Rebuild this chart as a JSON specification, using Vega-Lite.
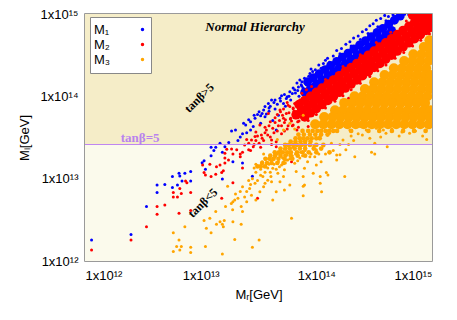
{
"$schema": "https://vega.github.io/schema/vega-lite/v6.json",
"width": 347, "height": 247,
"autosize": {"type": "none"},
"padding": {"left": 85, "top": 14, "right": 25, "bottom": 59},
"background": "white",
"config": {
  "view": {"stroke": "#7a7a7a", "strokeWidth": 1.5},
  "font": "Liberation Sans",
  "axis": {"labelFont": "Liberation Sans", "labelFontSize": 13, "labelColor": "black", "titleFont": "Liberation Sans", "titleFontSize": 13, "titleFontWeight": "normal", "titleColor": "black", "grid": false, "ticks": false, "domain": false}
},
"datasets": {
"bs": [
{"x":1.14e12,"y":1.8e12},{"x":2.5e12,"y":2.1e12},{"x":3.4e12,"y":4.6e12},{"x":4.2e12,"y":6.8e12},{"x":4.2e12,"y":8.4e12},{"x":4.9e12,"y":8.5e12},{"x":5.7e12,"y":7.8e12},{"x":5.7e12,"y":1.06e13},{"x":6.3e12,"y":8.4e12},{"x":6.5e12,"y":1.16e13},{"x":6.6e12,"y":1.08e13},{"x":7.3e12,"y":1.16e13},{"x":6.9e12,"y":9.4e12},{"x":8.2e12,"y":1.22e13},{"x":8.2e12,"y":9.4e12},{"x":1.03e13,"y":1.56e13},{"x":1.07e13,"y":1.65e13},{"x":1.1e13,"y":1.3e13},{"x":1.23e13,"y":1.9e13},{"x":1.23e13,"y":2.4e13},{"x":1.35e13,"y":2.4e13},{"x":1.47e13,"y":2.7e13},{"x":1.54e13,"y":2.1e13},{"x":1.62e13,"y":2.45e13},{"x":1.54e13,"y":9.9e12},{"x":1.3e13,"y":2.2e13},{"x":1.85e13,"y":3.8e13},{"x":2.0e13,"y":3.9e13},{"x":2.2e13,"y":3.2e13},{"x":2.35e13,"y":4.7e13},{"x":2.7e13,"y":4.9e13},{"x":2.7e13,"y":3.9e13},{"x":2.85e13,"y":4.3e13},{"x":2.5e13,"y":3.6e13},{"x":2.95e13,"y":5.4e13},{"x":3.3e13,"y":4.7e13},{"x":3.4e13,"y":6.2e13},{"x":3.6e13,"y":5.65e13},{"x":3.6e13,"y":7.5e13},{"x":3.85e13,"y":8.2e13},{"x":4.1e13,"y":9.0e13},{"x":4.5e13,"y":3.9e13},{"x":4.85e13,"y":9.5e13},{"x":5.2e13,"y":8.2e13},{"x":5.6e13,"y":9.9e13},{"x":5.9e13,"y":1.14e14},{"x":6.3e13,"y":1.26e14},{"x":6.8e13,"y":1.45e14},{"x":7.2e13,"y":1.58e14},{"x":7.9e13,"y":1.66e14},{"x":8.8e13,"y":1.9e14},{"x":9.8e13,"y":2.1e14},{"x":8.2e13,"y":1.38e14},{"x":7.9e13,"y":6.2e13},{"x":4.7e13,"y":5.9e13},{"x":2.1e13,"y":2.9e13},{"x":1.75e13,"y":2.75e13},{"x":3.1e13,"y":6.0e13},{"x":4.4e13,"y":7.0e13},{"x":5.0e13,"y":1.02e14},{"x":5.4e13,"y":7.6e13},{"x":6.0e13,"y":9.0e13},{"x":6.6e13,"y":1.1e14},{"x":3.9e13,"y":6.6e13},{"x":4.2e13,"y":5.1e13},{"x":2.3e13,"y":3.5e13},{"x":2.8e13,"y":1.07e13},{"x":2.3e13,"y":1.55e13},{"x":1.9e13,"y":1.6e13},
{"x":3.3e13,"y":5.8e13},{"x":3.5e13,"y":6.8e13},{"x":3.7e13,"y":6.1e13},{"x":4.0e13,"y":7.6e13},{"x":4.3e13,"y":8.4e13},{"x":4.6e13,"y":8.0e13},{"x":4.9e13,"y":8.8e13},{"x":5.3e13,"y":1.05e14},{"x":5.8e13,"y":1.0e14},{"x":6.2e13,"y":1.08e14},{"x":6.5e13,"y":1.2e14},{"x":7.0e13,"y":1.3e14},{"x":7.4e13,"y":1.38e14},{"x":7.7e13,"y":1.25e14},{"x":6.9e13,"y":1.18e14},{"x":5.5e13,"y":9.4e13},{"x":4.4e13,"y":9.0e13},{"x":3.9e13,"y":7.2e13},{"x":3.2e13,"y":6.5e13},{"x":2.9e13,"y":5.9e13},{"x":2.6e13,"y":5.2e13},{"x":2.45e13,"y":4.5e13},{"x":7.08e13,"y":1.0e14},{"x":7.5e13,"y":1.33e14},
{"x":1.05e14,"y":2.4e14},{"x":1.15e14,"y":2.5e14},{"x":1.25e14,"y":2.9e14},{"x":1.4e14,"y":3.1e14},{"x":1.5e14,"y":3.6e14},{"x":1.65e14,"y":3.8e14},{"x":1.8e14,"y":4.3e14},{"x":1.95e14,"y":4.6e14},{"x":2.1e14,"y":5.1e14},{"x":2.3e14,"y":5.4e14},{"x":2.5e14,"y":6.1e14},{"x":2.7e14,"y":6.5e14},{"x":2.9e14,"y":7.2e14},{"x":3.1e14,"y":7.6e14},{"x":3.3e14,"y":8.4e14},{"x":3.6e14,"y":8.8e14},{"x":3.9e14,"y":9.6e14},{"x":4.2e14,"y":9.3e14},{"x":4.6e14,"y":9.8e14},{"x":5.2e14,"y":9.7e14},{"x":5.8e14,"y":9.9e14},{"x":6.3e14,"y":9.8e14},{"x":1.1e14,"y":2.2e14},{"x":1.3e14,"y":2.6e14},{"x":1.6e14,"y":3.3e14},{"x":2.0e14,"y":4.1e14},{"x":2.4e14,"y":4.9e14},{"x":2.8e14,"y":5.8e14},{"x":3.4e14,"y":7.0e14},{"x":4.0e14,"y":8.3e14},{"x":4.8e14,"y":9.4e14},{"x":9.3e13,"y":2.0e14},{"x":1.0e14,"y":1.9e14},{"x":8.6e13,"y":1.75e14},{"x":9.0e13,"y":2.15e14},{"x":1.2e14,"y":2.75e14},{"x":7.5e13,"y":1.5e14},{"x":8.0e13,"y":1.45e14},{"x":1.4e14,"y":1.3e14},{"x":2.6e14,"y":2.2e14},{"x":9.5e13,"y":7.8e13}
],
"bc": [
{"x":7.94e13,"y":1.12e14},{"x":8.91e13,"y":1.26e14},{"x":1.0e14,"y":1.41e14},{"x":1.12e14,"y":1.58e14},{"x":1.26e14,"y":1.78e14},{"x":1.41e14,"y":2.0e14},{"x":1.58e14,"y":2.24e14},{"x":1.78e14,"y":2.51e14},{"x":2.0e14,"y":2.82e14},{"x":2.24e14,"y":3.16e14},{"x":2.51e14,"y":3.55e14},{"x":2.82e14,"y":3.98e14},{"x":3.16e14,"y":4.47e14},{"x":3.55e14,"y":5.01e14},{"x":3.98e14,"y":5.62e14},{"x":4.47e14,"y":6.31e14},
{"x":8.41e13,"y":1.5e14},{"x":9.44e13,"y":1.68e14},{"x":1.06e14,"y":1.88e14},{"x":1.19e14,"y":2.11e14},{"x":1.33e14,"y":2.37e14},{"x":1.5e14,"y":2.66e14},{"x":1.68e14,"y":2.99e14},{"x":1.88e14,"y":3.35e14},{"x":2.11e14,"y":3.76e14},{"x":2.37e14,"y":4.22e14},{"x":2.66e14,"y":4.73e14},{"x":2.99e14,"y":5.31e14},{"x":3.35e14,"y":5.96e14},{"x":3.76e14,"y":6.68e14},{"x":4.22e14,"y":7.5e14},{"x":4.73e14,"y":8.41e14},{"x":5.31e14,"y":9.44e14}
],
"rs": [
{"x":1.14e12,"y":1.36e12},{"x":2.5e12,"y":1.8e12},{"x":3.4e12,"y":2.6e12},{"x":4.2e12,"y":4.6e12},{"x":4.2e12,"y":3.7e12},{"x":4.9e12,"y":4.8e12},{"x":5.8e12,"y":6.8e12},{"x":5.8e12,"y":6.0e12},{"x":6.3e12,"y":6.0e12},{"x":6.6e12,"y":7.6e12},{"x":6.8e12,"y":6.6e12},{"x":6.5e12,"y":3.8e12},{"x":7.4e12,"y":9.4e12},{"x":7.6e12,"y":8.9e12},{"x":8.2e12,"y":6.8e12},{"x":8.2e12,"y":4.1e12},{"x":1.04e13,"y":1.47e13},{"x":1.07e13,"y":1.19e13},{"x":1.1e13,"y":1.11e13},{"x":1.23e13,"y":1.06e13},{"x":1.2e13,"y":1.5e13},{"x":1.37e13,"y":1.4e13},{"x":1.35e13,"y":1.13e13},{"x":1.47e13,"y":1.47e13},{"x":1.52e13,"y":1.19e13},{"x":1.57e13,"y":1.25e13},{"x":1.62e13,"y":1.78e13},{"x":1.62e13,"y":1.55e13},{"x":1.68e13,"y":2.27e13},{"x":1.85e13,"y":2.3e13},{"x":1.9e13,"y":2.0e13},{"x":1.52e13,"y":5.8e12},{"x":1.74e13,"y":1.68e13},{"x":1.62e13,"y":2.03e13},{"x":2.05e13,"y":2.24e13},{"x":2.2e13,"y":1.85e13},{"x":2.4e13,"y":2.57e13},{"x":2.6e13,"y":2.24e13},{"x":2.75e13,"y":2.95e13},{"x":2.85e13,"y":2.45e13},{"x":2.95e13,"y":3.25e13},{"x":3.35e13,"y":3.4e13},{"x":3.25e13,"y":4.5e13},{"x":3.7e13,"y":3.9e13},{"x":4.0e13,"y":4.9e13},{"x":4.1e13,"y":2.95e13},{"x":4.5e13,"y":2.45e13},{"x":5.2e13,"y":5.4e13},{"x":4.85e13,"y":6.8e13},{"x":5.5e13,"y":6.2e13},{"x":5.9e13,"y":7.5e13},{"x":6.5e13,"y":8.2e13},{"x":7.2e13,"y":9.0e13},{"x":6.8e13,"y":3.9e13},{"x":7.5e13,"y":1.09e14},{"x":8.2e13,"y":1.2e14},{"x":9.1e13,"y":1.32e14},{"x":4.5e13,"y":2.8e13},{"x":4.1e13,"y":2.6e13},{"x":6.1e13,"y":1.6e13},{"x":7.3e13,"y":5.6e13},
{"x":3.85e13,"y":6.2e13},{"x":4.4e13,"y":5.5e13},{"x":4.7e13,"y":4.4e13},{"x":5.0e13,"y":3.5e13},{"x":5.3e13,"y":4.8e13},{"x":5.7e13,"y":4.4e13},{"x":6.0e13,"y":5.4e13},{"x":3.0e13,"y":3.7e13},{"x":3.5e13,"y":2.9e13},{"x":3.2e13,"y":2.7e13},{"x":2.5e13,"y":3.0e13},{"x":2.3e13,"y":2.1e13},{"x":4.3e13,"y":3.6e13},{"x":6.4e13,"y":6.6e13},{"x":6.9e13,"y":4.9e13},{"x":5.6e13,"y":8.4e13},{"x":4.6e13,"y":6.0e13},{"x":3.6e13,"y":4.2e13},
{"x":2.6e13,"y":2.7e13},{"x":2.9e13,"y":2.6e13},{"x":3.1e13,"y":3.3e13},{"x":3.4e13,"y":3.1e13},{"x":3.8e13,"y":3.4e13},{"x":3.9e13,"y":4.4e13},{"x":4.2e13,"y":4.1e13},{"x":4.4e13,"y":4.8e13},{"x":4.6e13,"y":3.8e13},{"x":4.8e13,"y":5.1e13},{"x":5.0e13,"y":4.4e13},{"x":5.1e13,"y":5.9e13},{"x":5.4e13,"y":5.2e13},{"x":5.6e13,"y":4.0e13},{"x":5.8e13,"y":6.3e13},{"x":6.1e13,"y":5.0e13},{"x":6.3e13,"y":7.2e13},{"x":6.6e13,"y":5.5e13},{"x":6.2e13,"y":4.4e13},{"x":5.3e13,"y":3.8e13},{"x":4.0e13,"y":3.2e13},{"x":3.6e13,"y":3.6e13},{"x":3.3e13,"y":2.4e13},{"x":2.7e13,"y":2.2e13},{"x":3.0e13,"y":2.9e13},{"x":4.9e13,"y":6.5e13},{"x":5.2e13,"y":7.0e13},{"x":5.7e13,"y":7.8e13},{"x":6.7e13,"y":8.0e13},{"x":7.0e13,"y":7.0e13},{"x":7.5e13,"y":8.6e13},{"x":7.8e13,"y":6.0e13},
{"x":6.31e13,"y":7.08e13},{"x":5.96e13,"y":5.31e13},{"x":6.31e13,"y":4.47e13},{"x":7.08e13,"y":5.01e13},{"x":6.6e13,"y":6.2e13},{"x":6.9e13,"y":7.6e13},
{"x":1.4e14,"y":6.5e13},{"x":1.9e14,"y":9.5e13},{"x":2.6e14,"y":1.3e14},{"x":3.8e14,"y":1.6e14},{"x":1.1e14,"y":5.6e13},{"x":8.5e13,"y":4.3e13},{"x":2.2e13,"y":2.0e13},{"x":2.3e13,"y":1.35e13},{"x":1.9e13,"y":8.9e12},{"x":3.1e13,"y":5.8e12},
{"x":1.2e14,"y":1.6e14},{"x":1.7e14,"y":2.3e14},{"x":2.4e14,"y":3.2e14},{"x":3.3e14,"y":4.5e14},{"x":4.4e14,"y":6.0e14},{"x":6.0e14,"y":8.2e14},
{"x":7.0e13,"y":4.2e13},{"x":8.5e13,"y":5.1e13},{"x":1.0e14,"y":6.0e13},{"x":1.2e14,"y":7.2e13},{"x":1.45e14,"y":8.7e13},{"x":1.7e14,"y":1.02e14},{"x":2.0e14,"y":1.2e14},{"x":2.4e14,"y":1.44e14},{"x":2.9e14,"y":1.74e14},{"x":3.4e14,"y":2.04e14},{"x":4.0e14,"y":2.4e14},{"x":4.8e14,"y":2.9e14},{"x":5.7e14,"y":3.4e14},{"x":6.8e14,"y":4.1e14},{"x":8.0e14,"y":4.8e14},{"x":9.5e14,"y":5.7e14}
],
"rc": [
{"x":7.08e13,"y":7.94e13},{"x":7.94e13,"y":8.91e13},{"x":8.91e13,"y":1.0e14},{"x":1.0e14,"y":1.12e14},{"x":1.12e14,"y":1.26e14},{"x":1.26e14,"y":1.41e14},{"x":1.41e14,"y":1.58e14},{"x":1.58e14,"y":1.78e14},{"x":1.78e14,"y":2.0e14},{"x":2.0e14,"y":2.24e14},{"x":2.24e14,"y":2.51e14},{"x":2.51e14,"y":2.82e14},{"x":2.82e14,"y":3.16e14},{"x":3.16e14,"y":3.55e14},{"x":3.55e14,"y":3.98e14},{"x":3.98e14,"y":4.47e14},{"x":4.47e14,"y":5.01e14},{"x":5.01e14,"y":5.62e14},{"x":5.62e14,"y":6.31e14},{"x":6.31e14,"y":7.08e14},{"x":7.08e14,"y":7.94e14},{"x":7.94e14,"y":8.91e14},{"x":8.91e14,"y":9.9e14},
{"x":6.68e13,"y":5.96e13},{"x":7.5e13,"y":6.68e13},{"x":8.41e13,"y":7.5e13},{"x":9.44e13,"y":8.41e13},{"x":1.06e14,"y":9.44e13},{"x":1.19e14,"y":1.06e14},{"x":1.33e14,"y":1.19e14},{"x":1.5e14,"y":1.33e14},{"x":1.68e14,"y":1.5e14},{"x":1.88e14,"y":1.68e14},{"x":2.11e14,"y":1.88e14},{"x":2.37e14,"y":2.11e14},{"x":2.66e14,"y":2.37e14},{"x":2.99e14,"y":2.66e14},{"x":3.35e14,"y":2.99e14},{"x":3.76e14,"y":3.35e14},{"x":4.22e14,"y":3.76e14},{"x":4.73e14,"y":4.22e14},{"x":5.31e14,"y":4.73e14},{"x":5.96e14,"y":5.31e14},{"x":6.68e14,"y":5.96e14},{"x":7.5e14,"y":6.68e14},{"x":8.41e14,"y":7.5e14},{"x":9.44e14,"y":8.41e14},
{"x":7.94e13,"y":5.62e13},{"x":8.91e13,"y":6.31e13},{"x":1.0e14,"y":7.08e13},{"x":1.12e14,"y":7.94e13},{"x":1.26e14,"y":8.91e13},{"x":1.41e14,"y":1.0e14},{"x":1.58e14,"y":1.12e14},{"x":1.78e14,"y":1.26e14},{"x":2.0e14,"y":1.41e14},{"x":2.24e14,"y":1.58e14},{"x":2.51e14,"y":1.78e14},{"x":2.82e14,"y":2.0e14},{"x":3.16e14,"y":2.24e14},{"x":3.55e14,"y":2.51e14},{"x":3.98e14,"y":2.82e14},{"x":4.47e14,"y":3.16e14},{"x":5.01e14,"y":3.55e14},{"x":5.62e14,"y":3.98e14},{"x":6.31e14,"y":4.47e14},{"x":7.08e14,"y":5.01e14},{"x":7.94e14,"y":5.62e14},{"x":8.91e14,"y":6.31e14},{"x":9.7e14,"y":6.9e14},
{"x":6.8e14,"y":9.6e14},{"x":7.7e14,"y":9.7e14},{"x":8.6e14,"y":9.7e14},{"x":9.6e14,"y":9.7e14},{"x":9.7e14,"y":9.2e14},{"x":9.7e14,"y":7.7e14}
],
"os": [
{"x":5.8e12,"y":2.2e12},{"x":6.5e12,"y":1.8e12},{"x":6.2e12,"y":1.5e12},{"x":6.8e12,"y":1.5e12},{"x":5.8e12,"y":1.3e12},{"x":6.6e12,"y":1.36e12},{"x":7.3e12,"y":2.6e12},{"x":8.2e12,"y":1.47e12},{"x":8.2e12,"y":1.27e12},{"x":1.07e13,"y":3.1e12},{"x":1.1e13,"y":1.5e12},{"x":1.12e13,"y":2.5e12},{"x":1.23e13,"y":2.2e12},{"x":1.35e13,"y":4.0e12},{"x":1.2e13,"y":3.3e12},{"x":1.37e13,"y":2.8e12},{"x":1.47e13,"y":3.0e12},{"x":1.54e13,"y":2.8e12},{"x":1.6e13,"y":3.1e12},{"x":1.57e13,"y":2.6e12},{"x":1.54e13,"y":1.22e12},{"x":1.71e13,"y":8.1e12},{"x":1.9e13,"y":5.25e12},{"x":1.89e13,"y":4.2e12},{"x":1.64e13,"y":4.6e12},{"x":1.9e13,"y":3.0e12},{"x":1.97e13,"y":1.83e12},{"x":2.24e13,"y":2.8e12},{"x":3.2e13,"y":1.8e12},{"x":2.8e13,"y":1.47e12},{"x":6.1e13,"y":3.3e12},{"x":1.84e13,"y":5.0e12},{"x":2.3e13,"y":4.0e12},{"x":2.24e13,"y":4.6e12},{"x":1.97e13,"y":5.5e12},{"x":2.5e13,"y":5.25e12},{"x":2.4e13,"y":6.0e12},{"x":2.75e13,"y":6.3e12},{"x":3.0e13,"y":5.5e12},{"x":2.65e13,"y":7.6e12},{"x":3.25e13,"y":6.95e12},{"x":2.95e13,"y":8.8e12},{"x":3.6e13,"y":8.8e12},{"x":3.8e13,"y":9.6e12},{"x":3.45e13,"y":1.06e13},{"x":4.05e13,"y":1.06e13},{"x":4.65e13,"y":1.16e13},{"x":5.0e13,"y":1.47e13},{"x":5.3e13,"y":1.28e13},{"x":5.65e13,"y":1.68e13},{"x":6.5e13,"y":1.54e13},{"x":7.2e13,"y":1.78e13},{"x":7.9e13,"y":1.34e13},{"x":7.9e13,"y":8.4e12},{"x":9.7e13,"y":1.85e13},{"x":1.0e14,"y":1.47e13},{"x":1.1e14,"y":1.6e13},{"x":1.26e14,"y":1.11e13},{"x":1.76e14,"y":1.06e13},{"x":1.5e14,"y":1.94e13},{"x":2.15e14,"y":1.85e13},{"x":3.0e14,"y":2.1e13},{"x":3.2e14,"y":2.0e13},{"x":1.11e14,"y":6.95e12},{"x":7.7e13,"y":6.2e12},{"x":4.2e13,"y":5.5e12},{"x":1.22e14,"y":1.19e13},{"x":4.1e14,"y":2.45e13},{"x":3.2e14,"y":2.7e13},{"x":2.9e14,"y":3.1e13},{"x":2.1e14,"y":2.9e13},{"x":1.6e14,"y":1.95e13},{"x":1.8e14,"y":2.24e13},{"x":1.5e14,"y":1.68e13},{"x":1.0e14,"y":2.24e13},{"x":8.8e13,"y":1.85e13},{"x":6.7e13,"y":1.22e13},{"x":5.5e13,"y":1.68e13},{"x":5.2e13,"y":1.06e13},{"x":4.2e13,"y":1.34e13},{"x":4.85e13,"y":9.2e12},{"x":4.1e13,"y":9.2e12},{"x":5.3e13,"y":7.3e12},{"x":5.9e13,"y":8.4e12},{"x":4.5e13,"y":6.95e12},{"x":7.7e13,"y":1.06e13},{"x":1.08e14,"y":1.06e13},{"x":1.08e14,"y":8.8e12},{"x":9.4e13,"y":1.16e13},{"x":7.7e13,"y":8.1e12},{"x":8.8e13,"y":2.57e13},{"x":7.2e13,"y":2.45e13},{"x":1.07e14,"y":3.25e13},{"x":1.3e14,"y":3.55e13},{"x":1.5e14,"y":3.9e13},{"x":1.7e14,"y":2.95e13},{"x":1.95e14,"y":3.9e13},{"x":2.4e14,"y":4.3e13},{"x":2.7e14,"y":3.9e13},{"x":3.3e14,"y":4.1e13},{"x":4.0e14,"y":3.55e13},{"x":4.9e14,"y":4.3e13},{"x":6.4e14,"y":3.55e13},{"x":7.9e14,"y":4.7e13},{"x":8.9e14,"y":3.9e13},
{"x":2.3e14,"y":3.5e13},{"x":3.6e14,"y":3.2e13},{"x":5.5e14,"y":3.7e13},{"x":7.0e14,"y":4.2e13},{"x":9.5e14,"y":4.4e13},{"x":8.3e14,"y":3.3e13},{"x":4.5e14,"y":4.0e13},{"x":6.0e14,"y":4.5e13},
{"x":3.3e13,"y":1.3e13},{"x":3.9e13,"y":1.5e13},{"x":4.4e13,"y":1.85e13},{"x":3.7e13,"y":1.75e13},{"x":5.8e13,"y":2.1e13},{"x":6.3e13,"y":2.4e13},{"x":4.9e13,"y":2.2e13},{"x":3.0e13,"y":1.2e13},{"x":2.6e13,"y":9.5e12},{"x":2.2e13,"y":7.0e12},{"x":3.5e13,"y":2.0e13},
{"x":5.2e13,"y":3.9e13},{"x":5.9e13,"y":4.7e13},{"x":7.7e13,"y":5.9e13},{"x":6.5e13,"y":4.0e13},{"x":4.6e13,"y":3.0e13},
{"x":2.0e13,"y":6.5e12},{"x":2.1e13,"y":5.8e12},{"x":2.3e13,"y":8.0e12},{"x":2.5e13,"y":7.0e12},{"x":2.7e13,"y":8.5e12},{"x":2.8e13,"y":1.0e13},{"x":3.1e13,"y":9.5e12},{"x":3.3e13,"y":1.1e13},{"x":3.5e13,"y":8.0e12},{"x":3.6e13,"y":1.2e13},{"x":3.8e13,"y":1.35e13},{"x":4.0e13,"y":1.2e13},{"x":4.3e13,"y":1.5e13},{"x":4.5e13,"y":1.3e13},{"x":4.7e13,"y":1.6e13},{"x":4.8e13,"y":1.4e13},{"x":5.1e13,"y":1.8e13},{"x":5.4e13,"y":1.55e13},{"x":5.6e13,"y":1.95e13},{"x":5.9e13,"y":1.75e13},{"x":6.2e13,"y":1.9e13},{"x":6.6e13,"y":2.0e13},{"x":6.9e13,"y":1.65e13},{"x":7.3e13,"y":2.1e13},{"x":7.6e13,"y":1.9e13},{"x":8.0e13,"y":2.2e13},{"x":8.4e13,"y":1.6e13},{"x":9.0e13,"y":2.0e13},{"x":9.5e13,"y":2.5e13},{"x":1.05e14,"y":2.0e13},{"x":1.15e14,"y":2.5e13},{"x":1.2e14,"y":2.0e13},{"x":1.35e14,"y":2.7e13},{"x":1.4e14,"y":2.2e13},{"x":1.6e14,"y":2.6e13},{"x":1.9e14,"y":2.6e13},{"x":2.0e14,"y":3.3e13},{"x":2.5e14,"y":3.4e13},{"x":3.8e14,"y":3.9e13},{"x":5.2e14,"y":3.3e13},{"x":7.2e14,"y":3.8e13},{"x":9.0e14,"y":3.0e13},{"x":3.0e13,"y":1.5e13},{"x":4.1e13,"y":1.65e13},{"x":3.4e13,"y":1.6e13},{"x":2.9e13,"y":1.35e13},{"x":4.6e13,"y":2.0e13},{"x":5.3e13,"y":2.3e13},{"x":5.7e13,"y":2.5e13}
],
"om": [
{"x":7.6e13,"y":3.8e13},{"x":8.5e13,"y":3.8e13},{"x":9.3e13,"y":3.8e13},{"x":1.02e14,"y":3.8e13},{"x":1.1e14,"y":3.8e13},{"x":1.2e14,"y":3.8e13},{"x":1.29e14,"y":3.8e13},{"x":1.4e14,"y":3.8e13},{"x":1.51e14,"y":3.8e13},{"x":2.0e14,"y":3.8e13},{"x":2.82e14,"y":3.8e13},{"x":3.5e14,"y":3.8e13},{"x":4.5e14,"y":3.8e13},{"x":5.62e14,"y":3.8e13},{"x":7.0e14,"y":3.8e13},{"x":8.8e14,"y":3.8e13},
{"x":7.0e13,"y":3.43e13},{"x":7.8e13,"y":3.43e13},{"x":8.8e13,"y":3.43e13},{"x":9.8e13,"y":3.43e13},{"x":1.1e14,"y":3.43e13},{"x":1.25e14,"y":3.43e13},
{"x":6.61e13,"y":3.09e13},{"x":7.2e13,"y":3.09e13},{"x":7.76e13,"y":3.09e13},{"x":8.4e13,"y":3.09e13},{"x":9.12e13,"y":3.09e13},{"x":1.0e14,"y":3.09e13},{"x":1.07e14,"y":3.09e13},
{"x":6.0e13,"y":2.82e13},{"x":6.6e13,"y":2.82e13},{"x":7.3e13,"y":2.82e13},{"x":8.0e13,"y":2.82e13},{"x":8.9e13,"y":2.82e13},
{"x":5.37e13,"y":2.57e13},{"x":5.8e13,"y":2.57e13},{"x":6.31e13,"y":2.57e13},{"x":6.8e13,"y":2.57e13},{"x":7.41e13,"y":2.57e13},{"x":8.0e13,"y":2.57e13},{"x":8.8e13,"y":2.57e13},{"x":1.0e14,"y":2.57e13},{"x":1.15e14,"y":2.57e13},
{"x":4.9e13,"y":2.32e13},{"x":5.4e13,"y":2.32e13},{"x":5.9e13,"y":2.32e13},{"x":6.5e13,"y":2.32e13},{"x":7.2e13,"y":2.32e13},{"x":8.0e13,"y":2.32e13},{"x":9.5e13,"y":2.32e13},{"x":1.1e14,"y":2.32e13},
{"x":4.37e13,"y":2.09e13},{"x":4.75e13,"y":2.09e13},{"x":5.13e13,"y":2.09e13},{"x":5.6e13,"y":2.09e13},{"x":6.03e13,"y":2.09e13},{"x":6.8e13,"y":2.09e13},{"x":7.6e13,"y":2.09e13},{"x":8.6e13,"y":2.09e13},{"x":1.0e14,"y":2.09e13},{"x":1.3e14,"y":2.09e13},
{"x":4.0e13,"y":1.9e13},{"x":4.4e13,"y":1.9e13},{"x":4.9e13,"y":1.9e13},{"x":5.4e13,"y":1.9e13},{"x":6.0e13,"y":1.9e13},{"x":6.9e13,"y":1.9e13},{"x":8.0e13,"y":1.9e13},
{"x":3.63e13,"y":1.74e13},{"x":3.95e13,"y":1.74e13},{"x":4.27e13,"y":1.74e13},{"x":4.7e13,"y":1.74e13},{"x":5.3e13,"y":1.74e13},{"x":6.2e13,"y":1.74e13},
{"x":3.4e13,"y":1.55e13},{"x":3.75e13,"y":1.55e13},{"x":4.1e13,"y":1.55e13},{"x":4.6e13,"y":1.55e13},{"x":5.2e13,"y":1.55e13},
{"x":3.1e13,"y":1.41e13},{"x":3.31e13,"y":1.41e13},{"x":3.6e13,"y":1.41e13}
],
"oc": [
{"x":9.5e14,"y":4.79e14},
{"x":8.5e14,"y":3.98e14},{"x":9.6e14,"y":3.98e14},
{"x":6.9e14,"y":3.24e14},{"x":8.1e14,"y":3.24e14},{"x":9.5e14,"y":3.24e14},
{"x":5.75e14,"y":2.69e14},{"x":6.76e14,"y":2.69e14},{"x":7.94e14,"y":2.69e14},{"x":9.33e14,"y":2.69e14},
{"x":4.68e14,"y":2.19e14},{"x":5.5e14,"y":2.19e14},{"x":6.46e14,"y":2.19e14},{"x":7.59e14,"y":2.19e14},{"x":8.9e14,"y":2.19e14},
{"x":3.89e14,"y":1.82e14},{"x":4.57e14,"y":1.82e14},{"x":5.37e14,"y":1.82e14},{"x":6.31e14,"y":1.82e14},{"x":7.41e14,"y":1.82e14},{"x":8.71e14,"y":1.82e14},{"x":9.7e14,"y":1.82e14},
{"x":3.16e14,"y":1.48e14},{"x":3.72e14,"y":1.48e14},{"x":4.37e14,"y":1.48e14},{"x":5.13e14,"y":1.48e14},{"x":6.03e14,"y":1.48e14},{"x":7.08e14,"y":1.48e14},{"x":8.32e14,"y":1.48e14},{"x":9.55e14,"y":1.48e14},
{"x":2.63e14,"y":1.23e14},{"x":3.09e14,"y":1.23e14},{"x":3.63e14,"y":1.23e14},{"x":4.27e14,"y":1.23e14},{"x":5.01e14,"y":1.23e14},{"x":5.89e14,"y":1.23e14},{"x":6.92e14,"y":1.23e14},{"x":8.13e14,"y":1.23e14},{"x":9.55e14,"y":1.23e14},
{"x":2.14e14,"y":1.0e14},{"x":2.51e14,"y":1.0e14},{"x":2.95e14,"y":1.0e14},{"x":3.47e14,"y":1.0e14},{"x":4.07e14,"y":1.0e14},{"x":4.79e14,"y":1.0e14},{"x":5.62e14,"y":1.0e14},{"x":6.61e14,"y":1.0e14},{"x":7.76e14,"y":1.0e14},{"x":9.12e14,"y":1.0e14},
{"x":1.74e14,"y":8.32e13},{"x":2.04e14,"y":8.32e13},{"x":2.4e14,"y":8.32e13},{"x":2.82e14,"y":8.32e13},{"x":3.31e14,"y":8.32e13},{"x":3.89e14,"y":8.32e13},{"x":4.57e14,"y":8.32e13},{"x":5.37e14,"y":8.32e13},{"x":6.31e14,"y":8.32e13},{"x":7.41e14,"y":8.32e13},{"x":8.71e14,"y":8.32e13},
{"x":1.45e14,"y":6.76e13},{"x":1.7e14,"y":6.76e13},{"x":2.0e14,"y":6.76e13},{"x":2.34e14,"y":6.76e13},{"x":2.75e14,"y":6.76e13},{"x":3.24e14,"y":6.76e13},{"x":3.8e14,"y":6.76e13},{"x":4.47e14,"y":6.76e13},{"x":5.25e14,"y":6.76e13},{"x":6.17e14,"y":6.76e13},{"x":7.24e14,"y":6.76e13},{"x":8.51e14,"y":6.76e13},{"x":9.7e14,"y":6.76e13},
{"x":1.17e14,"y":5.62e13},{"x":1.38e14,"y":5.62e13},{"x":1.62e14,"y":5.62e13},{"x":1.91e14,"y":5.62e13},{"x":2.24e14,"y":5.62e13},{"x":2.63e14,"y":5.62e13},{"x":3.09e14,"y":5.62e13},{"x":3.63e14,"y":5.62e13},{"x":4.27e14,"y":5.62e13},{"x":5.01e14,"y":5.62e13},{"x":5.89e14,"y":5.62e13},{"x":6.92e14,"y":5.62e13},{"x":8.13e14,"y":5.62e13},{"x":9.55e14,"y":5.62e13},
{"x":9.77e13,"y":4.57e13},{"x":1.15e14,"y":4.57e13},{"x":1.35e14,"y":4.57e13},{"x":1.58e14,"y":4.57e13},{"x":1.86e14,"y":4.57e13},{"x":2.19e14,"y":4.57e13},{"x":2.57e14,"y":4.57e13},{"x":3.02e14,"y":4.57e13},{"x":3.55e14,"y":4.57e13},{"x":4.17e14,"y":4.57e13},{"x":4.9e14,"y":4.57e13},{"x":5.75e14,"y":4.57e13},{"x":6.76e14,"y":4.57e13},{"x":7.94e14,"y":4.57e13},{"x":9.33e14,"y":4.57e13}
]
},
"layer": [
{"data": {"values": [{"l": 1e12, "r": 1e15, "lo": 2.6e13, "hi": 1e15}]},
 "mark": {"type": "rect", "fill": "#f5edc8"},
 "encoding": {
  "x": {"field": "l", "type": "quantitative", "scale": {"type": "log", "domain": [1e12, 1e15]},
        "axis": {"values": [1e12, 1e13, 1e14, 1e15], "title": "Mᵣ[GeV]", "labelPadding": 8, "titlePadding": 6,
                 "labelExpr": "datum.value == 1e12 ? '1x10¹²' : datum.value == 1e13 ? '1x10¹³' : datum.value == 1e14 ? '1x10¹⁴' : '1x10¹⁵'"}},
  "x2": {"field": "r"},
  "y": {"field": "lo", "type": "quantitative", "scale": {"type": "log", "domain": [1e12, 1e15]},
        "axis": {"values": [1e12, 1e13, 1e14, 1e15], "title": "Mₗ[GeV]", "labelPadding": 7, "titlePadding": 8,
                 "labelExpr": "datum.value == 1e12 ? '1x10¹²' : datum.value == 1e13 ? '1x10¹³' : datum.value == 1e14 ? '1x10¹⁴' : '1x10¹⁵'"}},
  "y2": {"field": "hi"}
 }},
{"data": {"values": [{"l": 1e12, "r": 1e15, "lo": 1e12, "hi": 2.6e13}]},
 "mark": {"type": "rect", "fill": "#fbfaec"},
 "encoding": {"x": {"field": "l", "type": "quantitative"}, "x2": {"field": "r"}, "y": {"field": "lo", "type": "quantitative"}, "y2": {"field": "hi"}}},
{"data": {"name": "bs"},
 "mark": {"type": "circle", "size": 9, "opacity": 1, "clip": true},
 "encoding": {"x": {"field": "x", "type": "quantitative"}, "y": {"field": "y", "type": "quantitative"},
  "color": {"datum": "M₁", "type": "nominal",
    "scale": {"domain": ["M₁", "M₂", "M₃"], "range": ["#0000ff", "#ff0000", "#ffa500"]},
    "legend": {"orient": "none", "legendX": 5, "legendY": 3, "title": null, "fillColor": "white", "strokeColor": "#888888", "padding": 6,
      "labelFont": "Liberation Sans", "labelFontSize": 13, "labelColor": "black", "labelOffset": -55, "symbolOffset": 40,
      "symbolType": "circle", "symbolSize": 12, "rowPadding": 1,
      "labelExpr": "datum.label + '\u00a0\u00a0\u00a0\u00a0\u00a0\u00a0\u00a0\u00a0\u00a0\u00a0\u00a0\u00a0'"}}}},
{"data": {"name": "bc"},
 "mark": {"type": "circle", "size": 80, "opacity": 1, "clip": true},
 "encoding": {"x": {"field": "x", "type": "quantitative"}, "y": {"field": "y", "type": "quantitative"}, "color": {"datum": "M₁", "type": "nominal"}}},
{"data": {"name": "rs"},
 "mark": {"type": "circle", "size": 9, "opacity": 1, "clip": true},
 "encoding": {"x": {"field": "x", "type": "quantitative"}, "y": {"field": "y", "type": "quantitative"}, "color": {"datum": "M₂", "type": "nominal"}}},
{"data": {"name": "rc"},
 "mark": {"type": "circle", "size": 90, "opacity": 1, "clip": true},
 "encoding": {"x": {"field": "x", "type": "quantitative"}, "y": {"field": "y", "type": "quantitative"}, "color": {"datum": "M₂", "type": "nominal"}}},
{"data": {"name": "os"},
 "mark": {"type": "circle", "size": 9, "opacity": 1, "clip": true},
 "encoding": {"x": {"field": "x", "type": "quantitative"}, "y": {"field": "y", "type": "quantitative"}, "color": {"datum": "M₃", "type": "nominal"}}},
{"data": {"name": "om"},
 "mark": {"type": "circle", "size": 22, "opacity": 1, "clip": true},
 "encoding": {"x": {"field": "x", "type": "quantitative"}, "y": {"field": "y", "type": "quantitative"}, "color": {"datum": "M₃", "type": "nominal"}}},
{"data": {"name": "oc"},
 "mark": {"type": "circle", "size": 100, "opacity": 1, "clip": true},
 "encoding": {"x": {"field": "x", "type": "quantitative"}, "y": {"field": "y", "type": "quantitative"}, "color": {"datum": "M₃", "type": "nominal"}}},
{"data": {"values": [{"y": 2.6e13}]},
 "mark": {"type": "rule", "color": "#bf86f0", "strokeWidth": 1.2},
 "encoding": {"y": {"field": "y", "type": "quantitative"}}},
{"data": {"values": [{"x": 2.95e13, "y": 7.0e14, "t": "Normal Hierarchy"}]},
 "mark": {"type": "text", "font": "Liberation Serif", "fontSize": 13, "fontWeight": "bold", "fontStyle": "italic", "color": "black", "baseline": "middle", "align": "center"},
 "encoding": {"x": {"field": "x", "type": "quantitative"}, "y": {"field": "y", "type": "quantitative"}, "text": {"field": "t"}}},
{"data": {"values": [{"x": 9.7e12, "y": 9.6e13, "t": "tanβ>5"}, {"x": 1.04e13, "y": 5.1e12, "t": "tanβ<5"}]},
 "mark": {"type": "text", "font": "Liberation Serif", "fontSize": 12, "fontWeight": "bold", "color": "black", "angle": -45, "baseline": "middle", "align": "center"},
 "encoding": {"x": {"field": "x", "type": "quantitative"}, "y": {"field": "y", "type": "quantitative"}, "text": {"field": "t"}}},
{"data": {"values": [{"x": 3.0e12, "y": 3.12e13, "t": "tanβ=5"}]},
 "mark": {"type": "text", "font": "Liberation Serif", "fontSize": 13, "fontWeight": "bold", "color": "#b983ee", "baseline": "middle", "align": "center"},
 "encoding": {"x": {"field": "x", "type": "quantitative"}, "y": {"field": "y", "type": "quantitative"}, "text": {"field": "t"}}}
]
}
